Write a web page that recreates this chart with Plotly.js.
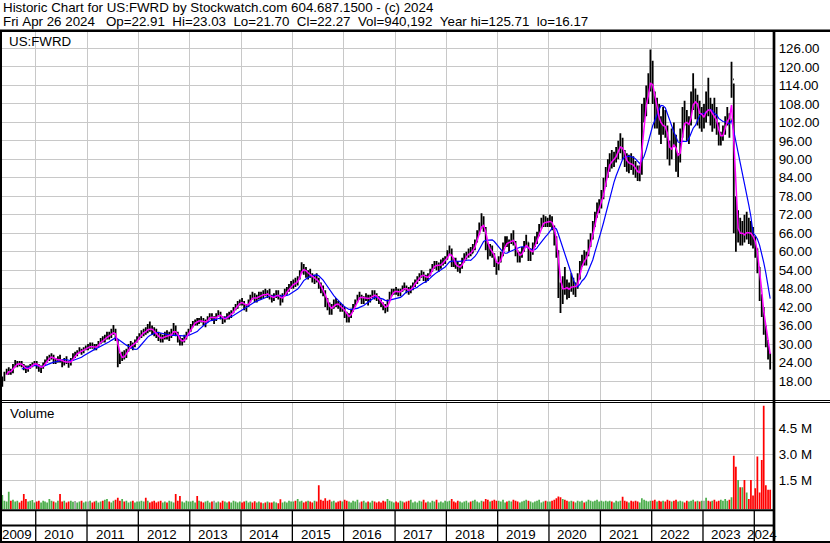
<!DOCTYPE html>
<html><head><meta charset="utf-8">
<script src="https://cdn.plot.ly/plotly-3.0.1.min.js"></script>
<style>html,body{margin:0;padding:0;background:#fff;overflow:hidden}#chart{width:830px;height:543px}</style>
</head><body><div id="chart"></div>
<script>
// ---- data: half-month periods ----
const dates = [
'2009-05-08','2009-05-23','2009-06-08','2009-06-23','2009-07-08','2009-07-23','2009-08-08','2009-08-23','2009-09-08','2009-09-23','2009-10-08','2009-10-23','2009-11-08','2009-11-23','2009-12-08','2009-12-23',
'2010-01-08','2010-01-23','2010-02-08','2010-02-23','2010-03-08','2010-03-23','2010-04-08','2010-04-23','2010-05-08','2010-05-23','2010-06-08','2010-06-23','2010-07-08','2010-07-23','2010-08-08','2010-08-23','2010-09-08','2010-09-23','2010-10-08','2010-10-23','2010-11-08','2010-11-23','2010-12-08','2010-12-23',
'2011-01-08','2011-01-23','2011-02-08','2011-02-23','2011-03-08','2011-03-23','2011-04-08','2011-04-23','2011-05-08','2011-05-23','2011-06-08','2011-06-23','2011-07-08','2011-07-23','2011-08-08','2011-08-23','2011-09-08','2011-09-23','2011-10-08','2011-10-23','2011-11-08','2011-11-23','2011-12-08','2011-12-23',
'2012-01-08','2012-01-23','2012-02-08','2012-02-23','2012-03-08','2012-03-23','2012-04-08','2012-04-23','2012-05-08','2012-05-23','2012-06-08','2012-06-23','2012-07-08','2012-07-23','2012-08-08','2012-08-23','2012-09-08','2012-09-23','2012-10-08','2012-10-23','2012-11-08','2012-11-23','2012-12-08','2012-12-23',
'2013-01-08','2013-01-23','2013-02-08','2013-02-23','2013-03-08','2013-03-23','2013-04-08','2013-04-23','2013-05-08','2013-05-23','2013-06-08','2013-06-23','2013-07-08','2013-07-23','2013-08-08','2013-08-23','2013-09-08','2013-09-23','2013-10-08','2013-10-23','2013-11-08','2013-11-23','2013-12-08','2013-12-23',
'2014-01-08','2014-01-23','2014-02-08','2014-02-23','2014-03-08','2014-03-23','2014-04-08','2014-04-23','2014-05-08','2014-05-23','2014-06-08','2014-06-23','2014-07-08','2014-07-23','2014-08-08','2014-08-23','2014-09-08','2014-09-23','2014-10-08','2014-10-23','2014-11-08','2014-11-23','2014-12-08','2014-12-23',
'2015-01-08','2015-01-23','2015-02-08','2015-02-23','2015-03-08','2015-03-23','2015-04-08','2015-04-23','2015-05-08','2015-05-23','2015-06-08','2015-06-23','2015-07-08','2015-07-23','2015-08-08','2015-08-23','2015-09-08','2015-09-23','2015-10-08','2015-10-23','2015-11-08','2015-11-23','2015-12-08','2015-12-23',
'2016-01-08','2016-01-23','2016-02-08','2016-02-23','2016-03-08','2016-03-23','2016-04-08','2016-04-23','2016-05-08','2016-05-23','2016-06-08','2016-06-23','2016-07-08','2016-07-23','2016-08-08','2016-08-23','2016-09-08','2016-09-23','2016-10-08','2016-10-23','2016-11-08','2016-11-23','2016-12-08','2016-12-23',
'2017-01-08','2017-01-23','2017-02-08','2017-02-23','2017-03-08','2017-03-23','2017-04-08','2017-04-23','2017-05-08','2017-05-23','2017-06-08','2017-06-23','2017-07-08','2017-07-23','2017-08-08','2017-08-23','2017-09-08','2017-09-23','2017-10-08','2017-10-23','2017-11-08','2017-11-23','2017-12-08','2017-12-23',
'2018-01-08','2018-01-23','2018-02-08','2018-02-23','2018-03-08','2018-03-23','2018-04-08','2018-04-23','2018-05-08','2018-05-23','2018-06-08','2018-06-23','2018-07-08','2018-07-23','2018-08-08','2018-08-23','2018-09-08','2018-09-23','2018-10-08','2018-10-23','2018-11-08','2018-11-23','2018-12-08','2018-12-23',
'2019-01-08','2019-01-23','2019-02-08','2019-02-23','2019-03-08','2019-03-23','2019-04-08','2019-04-23','2019-05-08','2019-05-23','2019-06-08','2019-06-23','2019-07-08','2019-07-23','2019-08-08','2019-08-23','2019-09-08','2019-09-23','2019-10-08','2019-10-23','2019-11-08','2019-11-23','2019-12-08','2019-12-23',
'2020-01-08','2020-01-23','2020-02-08','2020-02-23','2020-03-08','2020-03-23','2020-04-08','2020-04-23','2020-05-08','2020-05-23','2020-06-08','2020-06-23','2020-07-08','2020-07-23','2020-08-08','2020-08-23','2020-09-08','2020-09-23','2020-10-08','2020-10-23','2020-11-08','2020-11-23','2020-12-08','2020-12-23',
'2021-01-08','2021-01-23','2021-02-08','2021-02-23','2021-03-08','2021-03-23','2021-04-08','2021-04-23','2021-05-08','2021-05-23','2021-06-08','2021-06-23','2021-07-08','2021-07-23','2021-08-08','2021-08-23','2021-09-08','2021-09-23','2021-10-08','2021-10-23','2021-11-08','2021-11-23','2021-12-08','2021-12-23',
'2022-01-08','2022-01-23','2022-02-08','2022-02-23','2022-03-08','2022-03-23','2022-04-08','2022-04-23','2022-05-08','2022-05-23','2022-06-08','2022-06-23','2022-07-08','2022-07-23','2022-08-08','2022-08-23','2022-09-08','2022-09-23','2022-10-08','2022-10-23','2022-11-08','2022-11-23','2022-12-08','2022-12-23',
'2023-01-08','2023-01-23','2023-02-08','2023-02-23','2023-03-08','2023-03-23','2023-04-08','2023-04-23','2023-05-08','2023-05-23','2023-06-08','2023-06-23','2023-07-08','2023-07-23','2023-08-08','2023-08-23','2023-09-08','2023-09-23','2023-10-08','2023-10-23','2023-11-08','2023-11-23','2023-12-08','2023-12-23',
'2024-01-08','2024-01-23','2024-02-08','2024-02-23','2024-03-08','2024-03-23','2024-04-08','2024-04-23'];

const high = [
19.5,21,22,22.5,22,23.5,24.8,24.5,24.5,24.5,23.5,23,23,23.5,24,24.5,
24.5,23.5,23,24,25,26,26.5,27,26.5,25.5,26,26.5,25,25.5,26,24.5,25.5,27,27.5,28,29,28.5,29,29.5,
30,30.5,30.5,30,30,31,32,32.5,33,34,34,35,36.2,35,31.5,27,27.5,28,28.5,30,31,30.5,31.5,32.5,
33.5,34.5,35,35.5,36.5,37.3,36,35.5,35,34,33.5,33,34,34.5,34,35,36.8,36,34,32.5,32,33,34,35,
36.5,37.5,38,38.5,38.5,39,38.5,38,39,40,40,39,40,41,40.5,39,39,40,40.5,41,42,43,44,44.5,
45,44,43,44.5,46,47,46.5,46,47,47,47.5,48,47.5,48,46,46.5,47.5,47.5,46,46.5,48,48.5,49.5,50.5,
51,51.5,52,54,56.6,56,55,54,54.5,53,52.5,53,51.5,50,49,47.5,45,43.5,43,44.5,45,44,43.5,43,
42,40.5,40,41.5,43,44.5,46,47,46,45.5,46.5,46,46,47.5,47.5,46.5,45.5,44.5,43.5,43,44.5,47,48,48,
48.5,48,48,49,50,49,48.5,49,50,51,52,53,54,53.5,52.5,53,54.5,56,57,57,56.5,57.5,58,58.5,
60.5,62,61,58,58,57,56,58,59.5,60,61,61.5,62.5,64,67,69.5,72.5,71.5,68,63,62.5,62,59.5,57,
58.5,60,63,65,65,64,66,67,63.5,60.5,60,61.5,63.5,65.5,63,61,63,65,66.5,69,71,72,71.5,71,
72,71.5,68.5,65,60.5,50,52,55,51,50,53,51.5,50,53,57,59,60.5,60,64,66,70,73,76,77,
80,84,87.5,90,92,93,92.5,94,96,98.5,97,93,92,91.5,92,91,89.5,88,88,108,110,114,118,125.71,
122,112,110,108,104,107,106,101,96,100,102,98,92,100,107,109,106,104,112,118,113,111,109,107,
108,112,116.5,110,108,110,107,102,99,101,104,107,105,121.7,114.6,78,73.5,71,70,72,73,71,70,68,
65,61,55,46,42,36,31.3,27];

const low = [
16.17,18,20,20,20,20.5,22.5,22.5,22.8,22.5,21.5,20.6,21,22,22.5,23,
22,21,20.6,22,23,24,24.5,25,23.5,23.5,24,24,22.5,23,23.5,22.3,23,25,25.5,26,27,26.5,27,28,
28,28.5,28.5,28,28,29,30,30.5,30.5,31.5,31.5,32,33,31,22.5,23.5,24.5,25,25.5,27.5,28.5,28,29,30.5,
31.5,32,32.5,33,33.5,34,33,32.5,32,31,30.5,30.5,31.5,31.5,31,32,33,32.5,30.5,29.5,29.5,30.5,31.5,33,
34,35.5,36,36,36.5,37,36,35.5,37,38,37.5,36.5,37.5,39,38,36.5,37,38,38,38.5,40,41,41.5,42.5,
42.5,41,40.5,42,43.5,44.5,43.5,43.5,44.5,44.5,45,45.5,45,44.5,43.5,44,45,44.5,42.5,43.5,45.5,46,47,48,
48,48.5,49,51,53,52.5,51.5,51,51.5,50,49.5,50,48,46.5,45.5,42,41,39.5,39.5,41.5,42,41.5,40.5,40.5,
38.5,37,37,38.5,40.5,42,43.5,44.5,43,43,44,42.5,43.5,45,44.5,44,43,42,41,40,40.5,44,45.5,46,
46,45.5,45.5,47,47.5,46.5,46,46.5,47.5,48.5,49.5,50.5,51.5,50.5,50,50.5,52,53.5,54.5,54,53.5,54.5,55.5,56,
57.5,59,55,55,54.5,53.5,53,54.5,56.5,57.5,58,58.5,59.5,60.5,63,65.5,67.5,66.5,60.5,57.5,58.5,58,55,52.5,
54,56.5,58.5,61.5,61.5,60,62.5,62,58.5,56.5,56.5,58,60,61.5,57,57,59,61.5,62.5,65,67.5,68,68,68,
68,67,62,58,45,40.1,43,46,44.5,45,47,46,45.3,48,51,55,55.5,55.5,58.5,61.5,64,68,71,72.5,
74,77,81,84,86,87,87.5,89,90,92,90,87.5,86,85.5,86.5,85,84,83,82.9,85,102,104,108,112,
108,100,100,98,95,98,97,90,88,90,94,86,84.3,89,97,101,96,95,101,106,103,101,100,99,
100,102,104,101,99,100,98,94.5,94.5,96,98,101,97,110,66,60,63,62,62,63,64,62.5,62,61,
58,53,44,38.8,33,29,25,21.7];

const close = [
18.5,20.5,21,21.5,20.8,23,23.5,23.8,23.5,23,22,21.5,22.5,23,23.5,24,
23,22,22.5,23.5,24.5,25.5,25.8,26,24.5,24.8,25.5,24.5,23.5,25,24,23.5,25,26.5,26.5,27.5,28,27.5,28.5,29,
29,29.5,29,28.5,29.5,30.5,31.5,31,32.5,33,32.5,34,34.5,31.5,25.5,25,26.5,26,28,29.5,30,29.5,31,32,
33,33.5,34.5,34,35.5,35,34,33.5,32.5,32,31.5,32.5,33,32,33,34,35,33,31.5,30.5,31,32,33.5,34.5,
36,37,37.5,37,38,37.5,36.5,37.5,38.5,39.5,38,38,39.5,40,38.5,37.5,38.5,39.5,39,40.5,41.5,42.5,43,44,
43.5,42,42.5,44,45.5,45,44.5,45.5,46,45.5,46.5,46,46.5,45,44.5,46,46.5,45,44,46,47,47.5,48.5,49.5,
50,49.5,51.5,53.5,55,54,52.5,53,52,51,51.5,50.5,49,47.5,46.5,44,42,41,42,43.5,43,42.5,41.5,42,
39.5,38.5,39,41,42.5,44,45.5,45.5,44.5,45,45.5,44,45.5,46.5,45.5,45,44,43,42,41,44,46,47,47.5,
47,46.5,47.5,48.5,48,47.5,47,48.5,49.5,50.5,51,52.5,53,51.5,51,52.5,54,55.5,56,55,55.5,56.5,57,57.5,
59.5,60.5,56.5,56,55.5,54.5,55,57.5,58.5,59,60,59.5,61.5,63.5,66,68,70,67.5,62,59.5,61.5,59,56,55,
57.5,59,62,63.5,62.5,63,65,63,59.5,58,59,60.5,62.5,63,58.5,59.5,62,64,65.5,68,69.5,70,69,70,
70.5,68,64,59.5,48,46,50,48,47,48.5,50,47.5,48.5,52,56,57.5,57,59,63,64.5,69,72,74.5,75,
78,82,86,88,90.5,89,91,92.5,94,95.5,91.5,89.5,88,89,88.5,87,86,85,86,105,106,111,115,118,
110,104,107,100,99,104,99,92,91,97,96,88,90,98,104,103,99,102,109,112,105,107,103,104,
104,108,106,104,105,103,100,96,97,100,103,104,103,116,70,66,67,65,66,65.5,67,66,65,64,
61,55,46,41,35,31,27,22.27];

const volume = [ // millions of shares (tallest daily bar in each half month)
0.63,0.3,0.25,0.82,0.3,0.35,0.25,0.3,0.2,0.3,0.69,0.4,0.25,0.3,0.34,0.2,
0.25,0.3,0.2,0.3,0.25,0.2,0.4,0.3,0.25,0.2,0.3,0.69,0.25,0.3,0.2,0.25,0.3,0.24,0.28,0.2,0.25,0.3,0.2,0.25,
0.25,0.3,0.2,0.25,0.3,0.2,0.25,0.3,0.35,0.4,0.25,0.2,0.3,0.35,0.47,0.3,0.4,0.25,0.3,0.2,0.25,0.3,0.2,0.25,
0.25,0.3,0.25,0.47,0.3,0.2,0.25,0.3,0.2,0.25,0.3,0.2,0.25,0.2,0.3,0.25,0.2,0.69,0.3,0.57,0.25,0.2,0.3,0.25,
0.25,0.3,0.2,0.57,0.3,0.25,0.2,0.25,0.3,0.2,0.25,0.3,0.2,0.25,0.2,0.3,0.25,0.2,0.25,0.2,0.3,0.25,0.2,0.25,
0.2,0.25,0.3,0.2,0.25,0.2,0.27,0.2,0.25,0.2,0.15,0.2,0.25,0.2,0.2,0.25,0.2,0.15,0.38,0.2,0.25,0.2,0.3,0.25,
0.25,0.3,0.4,0.25,0.3,0.2,0.25,0.3,0.25,0.2,0.3,0.25,1.2,0.35,0.3,0.45,0.3,0.35,0.25,0.3,0.2,0.25,0.3,0.25,
0.35,0.3,0.25,0.2,0.3,0.25,0.35,0.2,0.25,0.3,0.2,0.25,0.2,0.3,0.25,0.2,0.25,0.2,0.3,0.25,0.4,0.3,0.25,0.2,
0.25,0.2,0.3,0.25,0.2,0.25,0.3,0.35,0.2,0.25,0.2,0.3,0.25,0.35,0.2,0.25,0.2,0.3,0.25,0.35,0.2,0.25,0.2,0.3,
0.25,0.3,0.4,0.25,0.2,0.3,0.25,0.2,0.25,0.3,0.2,0.25,0.3,0.35,0.25,0.2,0.3,0.25,0.4,0.35,0.25,0.3,0.35,0.3,
0.3,0.25,0.35,0.2,0.25,0.3,0.25,0.35,0.3,0.25,0.2,0.25,0.3,0.35,0.3,0.25,0.2,0.25,0.3,0.35,0.2,0.25,0.3,0.25,
0.25,0.3,0.35,0.45,0.55,0.5,0.4,0.35,0.3,0.25,0.3,0.25,0.2,0.3,0.25,0.3,0.2,0.25,0.35,0.3,0.25,0.3,0.35,0.25,
0.3,0.25,0.3,0.25,0.3,0.25,0.2,0.3,0.25,0.3,0.53,0.3,0.25,0.2,0.3,0.25,0.3,0.25,0.2,0.45,0.35,0.3,0.25,0.3,
0.3,0.35,0.25,0.3,0.25,0.3,0.25,0.35,0.3,0.25,0.3,0.35,0.25,0.3,0.25,0.2,0.3,0.25,0.3,0.35,0.25,0.3,0.25,0.3,
0.3,0.47,0.3,0.25,0.3,0.35,0.25,0.3,0.35,0.3,0.4,0.3,0.35,0.5,2.91,2.27,1.5,1.08,1.08,1.5,0.78,0.4,1.5,0.6,
1.02,2.86,0.78,2.66,5.81,1.2,0.94,0.94];

const yearStarts = ['2010-01-01','2011-01-01','2012-01-01','2013-01-01','2014-01-01','2015-01-01','2016-01-01','2017-01-01','2018-01-01','2019-01-01','2020-01-01','2021-01-01','2022-01-01','2023-01-01','2024-01-01'];
const yearLabels = ['2009','2010','2011','2012','2013','2014','2015','2016','2017','2018','2019','2020','2021','2022','2023','2024'];
const yearLabelPos = ['2009-08-19','2010-06-16','2011-06-16','2012-06-16','2013-06-16','2014-06-16','2015-06-16','2016-06-16','2017-06-16','2018-06-16','2019-06-16','2020-06-16','2021-06-16','2022-06-16','2023-06-16','2024-02-28'];
const priceTicks = [18,24,30,36,42,48,54,60,66,72,78,84,90,96,102,108,114,120,126];
const volTicks = [1.5,3.0,4.5];
const titleLine1 = 'Historic Chart for US:FWRD by Stockwatch.com 604.687.1500 - (c) 2024';
const titleLine2 = 'Fri Apr 26 2024   Op=22.91  Hi=23.03  Lo=21.70  Cl=22.27  Vol=940,192  Year hi=125.71  lo=16.17';
const symbol = 'US:FWRD';
const FAST_N = 3, SLOW_N = 10;   // moving-average lengths in half-month periods

// ---- derived ----
const open = close.map((c,i)=> i===0 ? 17.2 : close[i-1]);
function sma(a,n){return a.map((v,i)=>{if(i<n-1)return null;let s=0;for(let k=i-n+1;k<=i;k++)s+=a[k];return s/n;});}
const maFast = sma(close,FAST_N), maSlow = sma(close,SLOW_N);
const VBASE = -0.197e6;
const volY = volume.map(v=>v*1e6 - VBASE);
const volColor = close.map((c,i)=> i===0 ? '#4cae4c' : (c>close[i-1] ? '#4cae4c' : (c<close[i-1] ? '#ff0000' : '#a0a0a0')));

const W=830,H=543;
const px=x=>x/W, py=y=>(H-y)/H;
const FONT='"Liberation Sans", Arial, sans-serif';
const nb=s=>s.replace(/ /g,'\u00a0');

const traces = [
 {type:'ohlc', x:dates, open:open, high:high, low:low, close:close, xaxis:'x', yaxis:'y',
  increasing:{line:{color:'#000',width:1.8}}, decreasing:{line:{color:'#000',width:1.8}}, tickwidth:0.4, hoverinfo:'skip'},
 {type:'scatter', mode:'lines', x:dates, y:maSlow, line:{color:'#0000ff',width:1.2}, xaxis:'x', yaxis:'y', hoverinfo:'skip'},
 {type:'scatter', mode:'lines', x:dates, y:maFast, line:{color:'#ff00ff',width:1.5}, xaxis:'x', yaxis:'y', hoverinfo:'skip'},
 {type:'bar', x:dates, y:volY, base:VBASE, marker:{color:volColor,line:{width:0}}, xaxis:'x2', yaxis:'y2', hoverinfo:'skip'}
];

const shapes = [];
const L=(x0,y0,x1,y1,w)=>shapes.push({type:'line',xref:'paper',yref:'paper',x0:px(x0),y0:py(y0),x1:px(x1),y1:py(y1),line:{color:'#000',width:w},layer:'above'});
L(0,30.7,830,30.7,2.5);       // top border
L(1,30,1,543,2);              // left border
L(774,30,774,543,2.7);        // right border of plot
L(0,400.5,830,400.5,1);       // separator double line
L(0,402.5,830,402.5,1);
L(0,510.3,774,510.3,2);       // volume bottom
L(0,525.5,774,525.5,2);       // strip separator
L(0,542,830,542,2);           // bottom border
yearStarts.forEach(d=>shapes.push({type:'line',xref:'x',yref:'paper',x0:d,x1:d,y0:py(510),y1:py(541),line:{color:'#000',width:1.3},layer:'above'}));

const annotations = [
 {xref:'paper',yref:'paper',x:px(1),y:py(7.9),xanchor:'left',yanchor:'middle',text:nb(titleLine1),showarrow:false,font:{family:FONT,size:13.33,color:'#000'}},
 {xref:'paper',yref:'paper',x:px(1),y:py(21.9),xanchor:'left',yanchor:'middle',text:nb(titleLine2),showarrow:false,font:{family:FONT,size:13.33,color:'#000'}},
 {xref:'paper',yref:'paper',x:px(7),y:py(41.7),xanchor:'left',yanchor:'middle',text:symbol,showarrow:false,font:{family:FONT,size:13.33,color:'#000'}},
 {xref:'paper',yref:'paper',x:px(8),y:py(413.3),xanchor:'left',yanchor:'middle',text:'Volume',showarrow:false,font:{family:FONT,size:13.33,color:'#000'}}
];
yearLabels.forEach((t,i)=>annotations.push({xref:'x',yref:'paper',x:yearLabelPos[i],y:py(534.5),xanchor:'center',yanchor:'middle',text:t,showarrow:false,font:{family:FONT,size:13.33,color:'#000'}}));

const xcommon = {type:'date', domain:[px(2),px(772.7)], range:['2009-05-06','2024-05-11'], showgrid:true, gridcolor:'#c8c8c8', gridwidth:1,
  tickvals:yearStarts, showticklabels:false, ticks:'', zeroline:false, showline:false, fixedrange:true, rangeslider:{visible:false}};

const layout = {
 width:W, height:H, margin:{l:0,r:0,t:0,b:0,pad:0}, paper_bgcolor:'#fff', plot_bgcolor:'#fff', showlegend:false,
 font:{family:FONT,size:13.33,color:'#000'}, bargap:0.05,
 xaxis:Object.assign({},xcommon,{anchor:'y'}),
 xaxis2:Object.assign({},xcommon,{anchor:'y2',matches:'x'}),
 yaxis:{domain:[py(400),py(32)], range:[11.83,131.36], side:'right', anchor:'x', tickvals:priceTicks, ticktext:priceTicks.map(v=>v.toFixed(2)),
   showgrid:true, gridcolor:'#c8c8c8', gridwidth:1, zeroline:false, showline:false, ticks:'', ticklabelstandoff:5, fixedrange:true,
   tickfont:{family:FONT,size:13.33,color:'#000'}},
 yaxis2:{domain:[py(509.3),py(403)], range:[VBASE,5.971e6], side:'right', anchor:'x2', tickvals:volTicks.map(v=>v*1e6), ticktext:volTicks.map(v=>v.toFixed(1)+' M'),
   showgrid:true, gridcolor:'#c8c8c8', gridwidth:1, zeroline:false, showline:false, ticks:'', ticklabelstandoff:5, fixedrange:true,
   tickfont:{family:FONT,size:13.33,color:'#000'}},
 shapes:shapes, annotations:annotations
};
Plotly.newPlot('chart', traces, layout, {staticPlot:true, displayModeBar:false});
</script></body></html>
